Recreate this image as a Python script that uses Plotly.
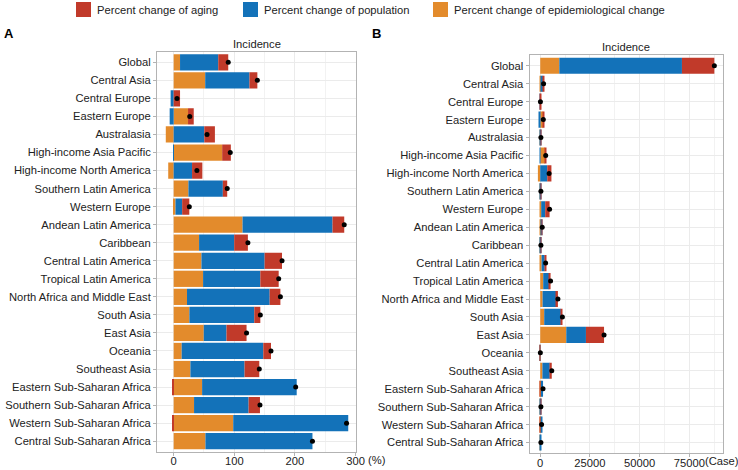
import plotly.graph_objects as go

regions = ["Global", "Central Asia", "Central Europe", "Eastern Europe", "Australasia",
           "High-income Asia Pacific", "High-income North America", "Southern Latin America",
           "Western Europe", "Andean Latin America", "Caribbean", "Central Latin America",
           "Tropical Latin America", "North Africa and Middle East", "South Asia", "East Asia",
           "Oceania", "Southeast Asia", "Eastern Sub-Saharan Africa", "Southern Sub-Saharan Africa",
           "Western Sub-Saharan Africa", "Central Sub-Saharan Africa"]

# Panel A: percent change decomposition (%)
pct_epi = [10.5, 52, 0, 23.7, -13, 80, -9, 24.3, 3, 113.6, 41.9, 45.8, 48.5, 22, 25.9, 49.6,
           13.2, 27.6, 46.9, 33.6, 98.2, 52.4]
pct_pop = [63, 73, -5, -6.6, 50.5, -1, 30.3, 56.8, 11, 148.4, 57.9, 104.2, 94.4, 136.3, 107, 37.5,
           134.6, 89.3, 156, 90, 189.7, 176.5]
pct_aging = [16.5, 13, 10.5, 9.4, 17.5, 14.3, 17, 7.2, 11.8, 19.3, 22.6, 28.7, 30.3, 17.7, 10, 33.1,
             12.7, 24.3, -1.7, 18.7, -2.8, 0]

# Panel B: change in cases
case_epi = [9600, 630, 0, 1500, -80, 2400, -1180, 90, 500, 400, 115, 690, 1500, 1200, 2000, 13100,
            5, 1100, 330, 80, 230, 78]
case_pop = [61700, 890, -90, -500, 310, -50, 3530, 215, 2000, 530, 160, 1575, 3100, 6900, 8400, 9900,
            50, 3700, 1080, 215, 447, 262]
case_aging = [16300, 160, 190, 550, 110, 400, 2100, 35, 2200, 70, 65, 435, 600, 800, 750, 9100,
              5, 1000, -10, 45, -7, 0]

A_ticks = [0, 100, 200, 300]
A_ticktext = ["0", "100", "200", "300"]
A_unit = "(%)"
B_ticks = [0, 25000, 50000, 75000]
B_ticktext = ["0", "25000", "50000", "75000"]
B_unit = "(Case)"

legend_labels = ["Percent change of aging", "Percent change of population",
                 "Percent change of epidemiological change"]

RED = "#C13A2A"
BLUE = "#1372B9"
ORANGE = "#E38B2C"
FONT = "Liberation Sans, Arial, sans-serif"
FS = 11.2

fig = go.Figure()

def add_panel(epi, pop, aging, xa, ya):
    for vals, col in [(epi, ORANGE), (pop, BLUE), (aging, RED)]:
        fig.add_trace(go.Bar(y=regions, x=vals, orientation="h", marker_color=col,
                             marker_line_width=0, xaxis=xa, yaxis=ya, showlegend=False))
    tot = [a + b + c for a, b, c in zip(epi, pop, aging)]
    fig.add_trace(go.Scatter(y=regions, x=tot, mode="markers", xaxis=xa, yaxis=ya,
                             marker=dict(color="black", size=5), showlegend=False))

add_panel(pct_epi, pct_pop, pct_aging, "x", "y")
add_panel(case_epi, case_pop, case_aging, "x2", "y2")

W, H = 738, 470
def px(x):
    return x / W
def py(y):
    return 1 - y / H

common_x = dict(showline=True, mirror=True, linecolor="#B3B3B3", linewidth=1,
                showgrid=True, gridcolor="#EBEBEB", gridwidth=1, zeroline=False,
                ticks="outside", ticklen=3, tickcolor="#B3B3B3", tickangle=0, automargin=False,
                ticklabelstandoff=-4,
                tickfont=dict(family=FONT, size=FS, color="#222"))
common_y = dict(type="category", categoryorder="array", categoryarray=regions,
                range=[len(regions) - 0.4, -0.6], automargin=False,
                showline=True, mirror=True, linecolor="#B3B3B3", linewidth=1,
                showgrid=True, gridcolor="#EBEBEB", gridwidth=1, zeroline=False,
                ticks="outside", ticklen=3, tickcolor="#B3B3B3",
                tickfont=dict(family=FONT, size=FS, color="#222"))

A_range = [-27.5, 300.7]
B_range = [-5400, 91800]
A_dom = [px(157), px(356)]
B_dom = [px(529.5), px(722.7)]

fig.update_layout(
    width=W, height=H, margin=dict(l=0, r=0, t=0, b=0, autoexpand=False),
    plot_bgcolor="white", paper_bgcolor="white",
    barmode="relative", bargap=0.1,
    font=dict(family=FONT, size=FS, color="#222"),
    xaxis=dict(domain=A_dom, anchor="y", range=A_range,
               tickvals=A_ticks, ticktext=A_ticktext,
               minor=dict(tickvals=[50, 150, 250], showgrid=True, gridcolor="#F2F2F2",
                          gridwidth=0.6, ticks=""), **common_x),
    yaxis=dict(domain=[py(452), py(51.5)], anchor="x", **common_y),
    xaxis2=dict(domain=B_dom, anchor="y2", range=B_range,
                tickvals=B_ticks, ticktext=B_ticktext,
                minor=dict(tickvals=[12500, 37500, 62500, 87500], showgrid=True,
                           gridcolor="#F2F2F2", gridwidth=0.6, ticks=""), **common_x),
    yaxis2=dict(domain=[py(453.3), py(55)], anchor="x2", **common_y),
)

ann = []
# unit suffixes placed just after the last tick label
ann.append(dict(text=A_unit, x=A_ticks[-1], xref="x", y=py(452), yref="paper",
                xanchor="left", yanchor="top", showarrow=False, xshift=10.5, yshift=0,
                font=dict(family=FONT, size=FS, color="#222")))
ann.append(dict(text=B_unit, x=B_ticks[-1], xref="x2", y=py(453.3), yref="paper",
                xanchor="left", yanchor="top", showarrow=False, xshift=14, yshift=0,
                font=dict(family=FONT, size=FS, color="#222")))
ann.append(dict(text="Incidence", x=sum(A_dom) / 2, y=py(51.5), xref="paper", yref="paper",
                xanchor="center", yanchor="bottom", showarrow=False, yshift=0,
                font=dict(family=FONT, size=FS, color="#222")))
ann.append(dict(text="Incidence", x=sum(B_dom) / 2, y=py(55), xref="paper", yref="paper",
                xanchor="center", yanchor="bottom", showarrow=False, yshift=0,
                font=dict(family=FONT, size=FS, color="#222")))
ann.append(dict(text="<b>A</b>", x=px(2), y=py(33), xref="paper", yref="paper", xanchor="left",
                yanchor="middle", showarrow=False, font=dict(family=FONT, size=13, color="black")))
ann.append(dict(text="<b>B</b>", x=px(370), y=py(33), xref="paper", yref="paper", xanchor="left",
                yanchor="middle", showarrow=False, font=dict(family=FONT, size=13, color="black")))

shapes = []
leg_pos = [(76, RED), (243, BLUE), (433, ORANGE)]
for (x0, col), lab in zip(leg_pos, legend_labels):
    shapes.append(dict(type="rect", xref="paper", yref="paper", x0=px(x0), x1=px(x0 + 15),
                       y0=py(17), y1=py(2), fillcolor=col, line_width=0))
    ann.append(dict(text=lab, x=px(x0 + 19), y=py(10), xref="paper", yref="paper",
                    xanchor="left", yanchor="middle", showarrow=False,
                    font=dict(family=FONT, size=FS, color="#222")))

fig.update_layout(annotations=ann, shapes=shapes)
fig.write_html("out.html", config={"displayModeBar": False},
               post_script="document.body.style.margin='0';document.body.style.overflow='hidden';")
